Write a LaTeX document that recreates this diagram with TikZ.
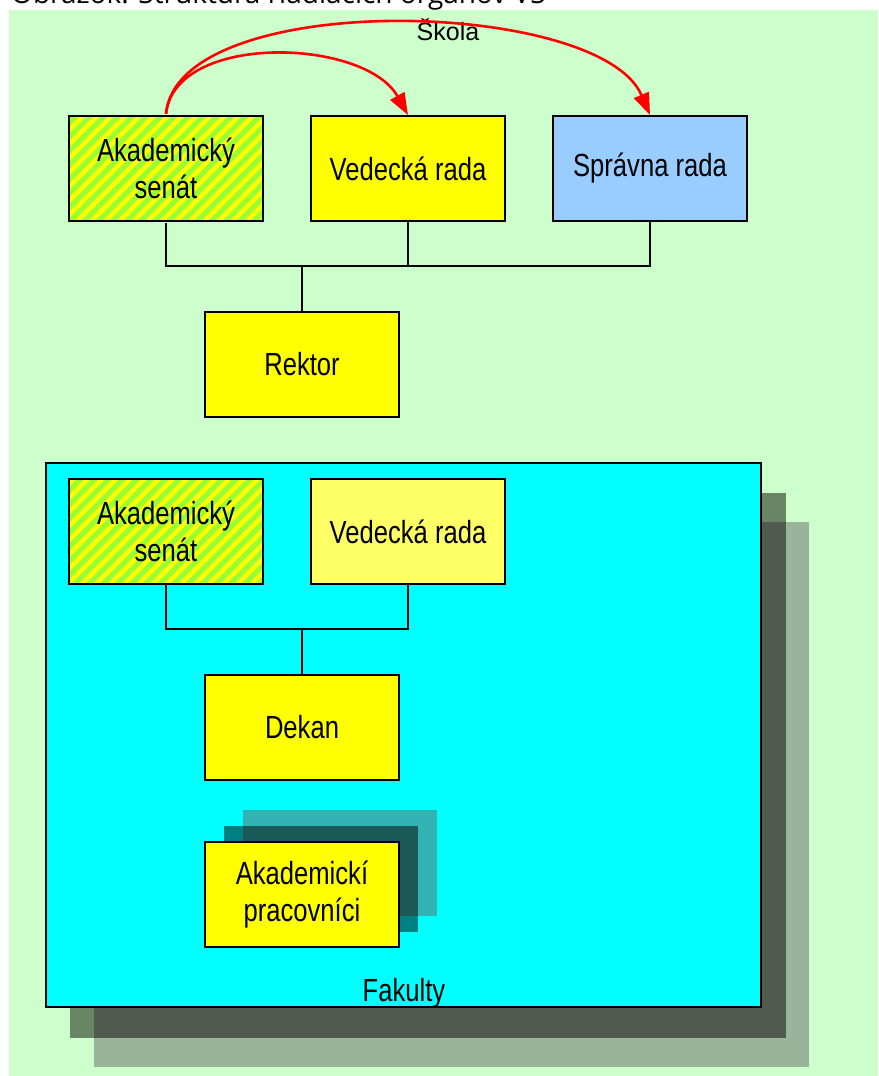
\documentclass[tikz,border=0pt]{standalone}
\usepackage{fontspec}
\setmainfont{Liberation Sans}
\newfontfamily\boxfont[FakeStretch=0.8]{Liberation Sans}
\newfontfamily\capfont{Open Sans}
\usetikzlibrary{arrows.meta,patterns.meta}
\definecolor{bggreen}{HTML}{CCFFCC}
\definecolor{boxyellow}{HTML}{FFFF00}
\definecolor{paleyellow}{HTML}{FFFF66}
\definecolor{lightblue}{HTML}{99CCFF}
\definecolor{hatchgreen}{HTML}{99FF33}
\definecolor{facultycyan}{HTML}{00FFFF}
\definecolor{shadowfar}{HTML}{9AB49A}
\definecolor{shadownear}{HTML}{6A8466}
\definecolor{shadowboth}{HTML}{505A4E}
\definecolor{tealfar}{HTML}{33B3B3}
\definecolor{tealnear}{HTML}{008080}
\definecolor{tealboth}{HTML}{1C5A5A}
\begin{document}
\begin{tikzpicture}[x=1pt,y=-1pt,
  orgbox/.style={draw=black, line width=1.8pt, minimum width=194pt, minimum height=105pt,
    inner sep=0pt, align=center, font=\boxfont\fontsize{32}{37}\selectfont},
  yellowbox/.style={orgbox, fill=boxyellow},
  hatchbox/.style={orgbox, preaction={fill=hatchgreen},
    pattern={Lines[angle=45,distance=10pt,line width=4.5pt]}, pattern color=boxyellow},
  link/.style={draw=black, line width=1.6pt},
  stem/.style={draw=black, line width=2.6pt},
  redarrow/.style={draw=red, line width=2.6pt, -{Triangle[length=22pt,width=16pt]}},
  labeltext/.style={inner sep=0pt, font=\boxfont\fontsize{32}{37}\selectfont}
]
\useasboundingbox (0,0) rectangle (878,1076);
\fill[white] (0,0) rectangle (878,1076);
\fill[bggreen] (9,10) rectangle (878,1076);

% caption (cut off at the top edge, as in the source)
\node[anchor=base west, inner sep=0pt, font=\capfont\fontsize{28}{30}\selectfont] (caption) at (11,3.5)
  {Obrázok: Štruktúra riadiacich orgánov VŠ};

% School level
\node[anchor=base, inner sep=0pt, font=\fontsize{25}{28}\selectfont] (skola) at (448,40.5) {Škola};

\node[hatchbox] (as1) at (166,168.5) {Akademický\\senát};
\node[yellowbox] (vr1) at (408,168.5) {Vedecká rada};
\node[orgbox, fill=lightblue] (sr1) at (650,168.5) {Správna rada};
\node[yellowbox] (rek) at (302,364.5) {Rektor};

\coordinate (j1) at (302,266);
\draw[link] (as1.south) |- (j1) -| (sr1.south);
\draw[link] (vr1.south) -- (vr1.south |- j1);
\draw[stem] (j1) -- (rek.north);

\draw[redarrow] (as1.north) .. controls (175,32) and (365,38) .. (vr1.north);
\draw[redarrow] (as1.north) .. controls (178,-12) and (600,-2) .. (sr1.north);

% Faculty shadows
\fill[shadowfar] (94,522) rectangle (809,1067);
\fill[shadownear] (70,493) rectangle (786,1038);
\fill[shadowboth] (94,522) rectangle (786,1038);

\node[draw=black, line width=1.8pt, fill=facultycyan, minimum width=715pt, minimum height=544pt,
  inner sep=0pt] (fak) at (403.5,735) {};
\node[labeltext, anchor=base] (fakl) at (404,1001) {Fakulty};

\node[hatchbox] (as2) at (166,531.5) {Akademický\\senát};
\node[orgbox, fill=paleyellow] (vr2) at (408,531.5) {Vedecká rada};
\node[yellowbox] (dek) at (302,727.5) {Dekan};

\coordinate (j2) at (302,629);
\draw[link] (as2.south) |- (j2) -| (vr2.south);
\draw[link] (j2) -- (dek.north);

% Academic staff shadows
\fill[tealfar] (243,810) rectangle (437,916);
\fill[tealnear] (224,826) rectangle (418,932);
\fill[tealboth] (243,826) rectangle (418,916);
\node[yellowbox] (ap) at (302,894.5) {Akademickí\\pracovníci};
\end{tikzpicture}
\end{document}
